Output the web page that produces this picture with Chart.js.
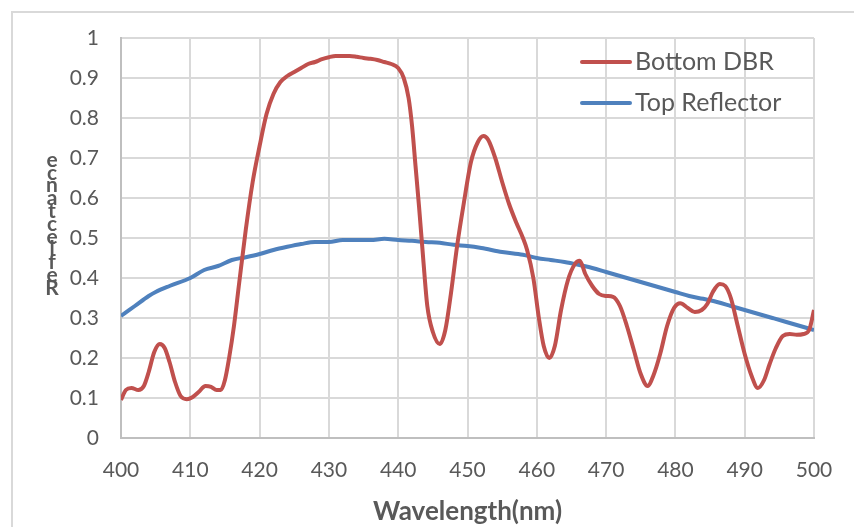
<!DOCTYPE html>
<html>
<head>
<meta charset="utf-8">
<script src="https://cdn.jsdelivr.net/npm/chart.js@4.4.0/dist/chart.umd.min.js"></script>
<style>
  html, body { margin: 0; padding: 0; background: #fff; }
  #wrap { position: relative; width: 854px; height: 527px; overflow: hidden; }
  #frame { position: absolute; left: 11px; top: 11px; width: 900px; height: 600px; border: 2px solid #d9d9d9; box-sizing: border-box; }
  canvas { position: absolute; left: 0; top: 0; }
</style>
</head>
<body>
<div id="wrap">
  <div id="frame"></div>
  <canvas id="chart" width="854" height="527"></canvas>
</div>
<script>
// --- datos ---
const dbrNm = [400, 400.7, 401.5, 402.5, 403.3, 404, 404.8, 405.6, 406.3, 407, 407.8, 408.6, 409.5, 410.3, 411.2, 412.2, 413, 413.8, 414.4, 415, 415.6, 416.3, 417, 418, 419, 420, 421, 422, 423, 424, 425, 426, 427, 428, 429, 430, 431, 432, 433, 434, 435, 436, 437, 438, 439, 440, 440.8, 441.5, 442, 442.5, 443, 443.6, 444.2, 445, 446, 446.8, 447.6, 448.5, 449.4, 450.5, 451.5, 452.3, 453, 454, 455, 456, 457, 458, 458.6, 459.5, 460.3, 461, 461.8, 462.6, 463.5, 464.5, 465.5, 466.2, 467, 468, 469, 470, 471, 472, 473, 474, 475, 476, 476.8, 477.8, 478.8, 479.8, 480.7, 481.8, 482.8, 483.8, 484.6, 485.4, 486.4, 487.2, 488, 489, 490, 491, 491.9, 492.8, 493.6, 494.5, 495.5, 496.5, 497.5, 498.5, 499.3, 500];
const dbrR  = [0.095, 0.12, 0.125, 0.12, 0.13, 0.165, 0.215, 0.235, 0.225, 0.19, 0.14, 0.105, 0.097, 0.102, 0.115, 0.13, 0.128, 0.12, 0.12, 0.145, 0.2, 0.28, 0.38, 0.52, 0.64, 0.73, 0.81, 0.86, 0.89, 0.905, 0.915, 0.925, 0.935, 0.94, 0.947, 0.952, 0.955, 0.955, 0.955, 0.953, 0.95, 0.948, 0.945, 0.94, 0.935, 0.925, 0.9, 0.85, 0.78, 0.68, 0.58, 0.45, 0.33, 0.265, 0.235, 0.27, 0.36, 0.48, 0.58, 0.69, 0.74, 0.755, 0.745, 0.7, 0.64, 0.585, 0.54, 0.5, 0.47, 0.4, 0.3, 0.23, 0.2, 0.23, 0.32, 0.395, 0.435, 0.443, 0.41, 0.38, 0.36, 0.355, 0.353, 0.33, 0.28, 0.22, 0.16, 0.13, 0.155, 0.21, 0.28, 0.325, 0.337, 0.325, 0.315, 0.32, 0.335, 0.365, 0.385, 0.38, 0.35, 0.28, 0.21, 0.155, 0.125, 0.145, 0.185, 0.225, 0.255, 0.26, 0.258, 0.26, 0.27, 0.32];

const topNm = [400, 402, 404, 405, 407, 410, 412, 414, 416, 418, 420, 422, 424, 426, 428, 430, 432, 434, 436, 438, 440, 442, 444, 446, 448, 450, 452, 455, 458, 460, 462, 464, 466, 468, 470, 472, 474, 476, 478, 480, 482, 484, 486, 488, 490, 492, 494, 496, 498, 500];
const topR  = [0.305, 0.33, 0.355, 0.365, 0.38, 0.40, 0.42, 0.43, 0.445, 0.452, 0.46, 0.47, 0.478, 0.485, 0.49, 0.49, 0.495, 0.495, 0.495, 0.498, 0.495, 0.493, 0.49, 0.488, 0.483, 0.48, 0.475, 0.465, 0.458, 0.45, 0.445, 0.44, 0.433, 0.425, 0.415, 0.405, 0.395, 0.385, 0.375, 0.365, 0.355, 0.348, 0.34, 0.33, 0.32, 0.31, 0.3, 0.29, 0.28, 0.27];

const nombresSeries = ['Bottom DBR', 'Top Reflector'];
const colores = ['#C0504D', '#4F81BD'];
const tituloX = 'Wavelength(nm)';
const tituloY = 'Reflectance';

const toPts = (xs, ys) => xs.map((x, i) => ({ x: x, y: ys[i] }));
const FUENTE = 'Lato, "Open Sans", sans-serif';
const GRIS = '#595959';

// leyenda dentro del area del grafico
const leyendaInterna = {
    id: 'leyendaInterna',
    afterDraw(chart) {
        const ctx = chart.ctx;
        ctx.save();
        chart.data.datasets.forEach((ds, i) => {
            const y = 62 + i * 41;
            ctx.strokeStyle = ds.borderColor;
            ctx.lineWidth = 4;
            ctx.lineCap = 'round';
            ctx.beginPath();
            ctx.moveTo(582, y);
            ctx.lineTo(630, y);
            ctx.stroke();
            ctx.fillStyle = GRIS;
            ctx.font = '25px ' + FUENTE;
            ctx.textBaseline = 'middle';
            ctx.fillText(ds.label, 635, y);
        });
        ctx.restore();
    }
};

// titulo Y con letras apiladas (como en el original)
const tituloVertical = {
    id: 'tituloVertical',
    afterDraw(chart) {
        const ctx = chart.ctx;
        const letras = tituloY.split('').reverse();
        ctx.save();
        ctx.fillStyle = GRIS;
        ctx.font = 'bold 21px ' + FUENTE;
        ctx.textAlign = 'center';
        ctx.textBaseline = 'middle';
        letras.forEach((c, i) => {
            ctx.fillText(c, 52, 160 + i * 12.8);
        });
        ctx.restore();
    }
};

new Chart(document.getElementById('chart').getContext('2d'), {
    type: 'line',
    data: {
        datasets: [
            { label: nombresSeries[0], data: toPts(dbrNm, dbrR), borderColor: colores[0], borderWidth: 4, pointRadius: 0, cubicInterpolationMode: 'monotone', fill: false },
            { label: nombresSeries[1], data: toPts(topNm, topR), borderColor: colores[1], borderWidth: 4, pointRadius: 0, cubicInterpolationMode: 'monotone', fill: false }
        ]
    },
    options: {
        responsive: false,
        animation: false,
        layout: { padding: { top: 38, right: 40, left: 0, bottom: 0 } },
        plugins: { legend: { display: false }, tooltip: { enabled: false } },
        scales: {
            x: {
                type: 'linear', min: 400, max: 500,
                ticks: { stepSize: 10, color: GRIS, font: { size: 21, family: FUENTE }, padding: 20, maxRotation: 0 },
                grid: { color: '#d9d9d9', lineWidth: 2, drawTicks: false },
                border: { color: '#bfbfbf', width: 2 },
                title: { display: true, text: tituloX, color: GRIS, font: { size: 26, weight: 'bold', family: FUENTE }, padding: { top: 6, bottom: 0 } },
                afterFit(scale) { scale.height = 89; }
            },
            y: {
                min: 0, max: 1,
                ticks: { stepSize: 0.1, color: GRIS, font: { size: 21, family: FUENTE }, padding: 22, callback: v => String(+v.toFixed(1)) },
                grid: { color: '#d9d9d9', lineWidth: 2, drawTicks: false },
                border: { color: '#bfbfbf', width: 2 },
                afterFit(scale) { scale.width = 121; }
            }
        }
    },
    plugins: [leyendaInterna, tituloVertical]
});
</script>
</body>
</html>
